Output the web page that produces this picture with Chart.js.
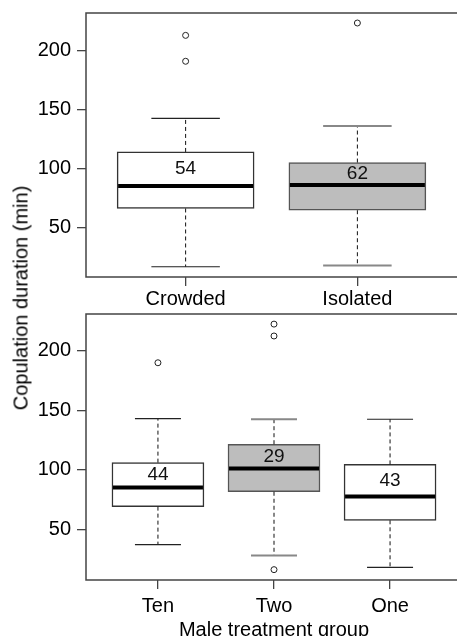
<!DOCTYPE html>
<html>
<head>
<meta charset="utf-8">
<script src="https://cdn.jsdelivr.net/npm/chart.js@4"></script>
<style>
  body { margin: 0; width: 457px; height: 636px; overflow: hidden; background: #fff; position: relative; }
  canvas { position: absolute; left: 0; }
  #topChart { top: 0; }
  #botChart { top: 305px; }
  #ytitle {
    position: absolute; left: 21px; top: 298px; z-index: 2;
    transform: translate(-50%, -50%) rotate(-90deg);
    white-space: nowrap; font: 20px "Liberation Sans", Arial, sans-serif; color: #000;
  }
</style>
</head>
<body>
<canvas id="topChart" width="457" height="315"></canvas>
<canvas id="botChart" width="462" height="337"></canvas>
<div id="ytitle">Copulation duration (min)</div>
<script>
// top panel: female rearing
const groupsTop = ['Crowded', 'Isolated'];
const q1Top = [66, 64.5];
const medTop = [85, 86];
const q3Top = [114, 105];
const loTop = [16.5, 17.5];
const hiTop = [142.5, 136];
const nTop = [54, 62];
const outTop = [[213, 191], [223.5]];

// bottom panel: male treatment
const groupsBot = ['Ten', 'Two', 'One'];
const q1Bot = [69, 81.5, 57.5];
const medBot = [85, 101, 77.5];
const q3Bot = [106, 121.5, 104.5];
const loBot = [37, 28, 18];
const hiBot = [143, 142.5, 142.5];
const nBot = [44, 29, 43];
const outBot = [[190], [222.5, 212.5, 16], []];

const yTicks = [50, 100, 150, 200];

Chart.defaults.font.family = '"Liberation Sans", Arial, sans-serif';
Chart.defaults.font.size = 20;
Chart.defaults.color = '#000';

const boxExtras = {
  id: 'boxExtras',
  afterDatasetsDraw(chart, args, opts) {
    const {ctx, chartArea: a, scales: {y}} = chart;
    const d = opts.d;
    const meta = chart.getDatasetMeta(0);
    ctx.save();
    meta.data.forEach((bar, i) => {
      const x = bar.x, w = bar.width;
      const grey = d.grey[i];
      // dashed whiskers
      ctx.strokeStyle = '#111';
      ctx.lineWidth = 1;
      ctx.setLineDash([4, 3]);
      ctx.beginPath();
      ctx.moveTo(x, y.getPixelForValue(d.q3[i]));
      ctx.lineTo(x, y.getPixelForValue(d.hi[i]));
      ctx.moveTo(x, y.getPixelForValue(d.q1[i]));
      ctx.lineTo(x, y.getPixelForValue(d.lo[i]));
      ctx.stroke();
      ctx.setLineDash([]);
      // caps
      ctx.strokeStyle = grey ? '#888' : '#222';
      ctx.lineWidth = grey ? 2 : 1.2;
      ctx.beginPath();
      [d.hi[i], d.lo[i]].forEach(v => {
        const py = y.getPixelForValue(v);
        ctx.moveTo(x - w / 4, py);
        ctx.lineTo(x + w / 4, py);
      });
      ctx.stroke();
      // median
      ctx.strokeStyle = '#000';
      ctx.lineWidth = 4;
      ctx.beginPath();
      const pm = y.getPixelForValue(d.med[i]);
      ctx.moveTo(x - w / 2 + 1, pm);
      ctx.lineTo(x + w / 2 - 1, pm);
      ctx.stroke();
      // n label
      ctx.fillStyle = '#111';
      ctx.font = '19px "Liberation Sans", Arial, sans-serif';
      ctx.textAlign = 'center';
      ctx.textBaseline = 'middle';
      ctx.fillText(String(d.n[i]), x, y.getPixelForValue((d.med[i] + d.q3[i]) / 2));
    });
    // frame (no right side, it falls off the page)
    ctx.strokeStyle = '#444';
    ctx.lineWidth = 1.5;
    ctx.beginPath();
    ctx.moveTo(a.right + 2, a.top);
    ctx.lineTo(a.left, a.top);
    ctx.lineTo(a.left, a.bottom);
    ctx.lineTo(a.right + 2, a.bottom);
    ctx.stroke();
    ctx.restore();
  }
};

function makePanel(id, p) {
  const fills = p.grey.map(g => g ? '#bdbdbd' : '#ffffff');
  const borders = p.grey.map(g => g ? '#555' : '#333');
  const outliers = [];
  p.out.forEach((vals, i) => vals.forEach(v => outliers.push({x: i + 1, y: v})));

  return new Chart(document.getElementById(id), {
    type: 'bar',
    data: {
      datasets: [{
        data: p.groups.map((g, i) => ({x: i + 1, y: [p.q1[i], p.q3[i]]})),
        backgroundColor: fills,
        borderColor: borders,
        borderWidth: 1.5,
        borderSkipped: false,
        barThickness: p.boxW
      }, {
        type: 'scatter',
        data: outliers,
        pointRadius: 3,
        pointBorderWidth: 1,
        pointBorderColor: '#222',
        pointBackgroundColor: 'rgba(0,0,0,0)'
      }]
    },
    options: {
      responsive: false,
      animation: false,
      layout: {autoPadding: false, padding: {top: p.padTop, left: 0, right: 0, bottom: 0}},
      plugins: {
        legend: {display: false},
        tooltip: {enabled: false},
        boxExtras: {d: p}
      },
      scales: {
        x: {
          type: 'linear',
          offset: false,
          min: p.xMin,
          max: p.xMax,
          afterFit: s => { s.height = p.xH; s.paddingLeft = 0; s.paddingRight = 0; },
          afterBuildTicks: s => { s.ticks = p.groups.map((g, i) => ({value: i + 1})); },
          ticks: {
            callback: (v, i) => p.groups[i],
            padding: p.xPad,
            maxRotation: 0,
            autoSkip: false,
            color: '#000'
          },
          grid: {offset: false, drawOnChartArea: false, tickLength: 9, color: '#444', lineWidth: 1.3},
          border: {display: false},
          title: {
            display: !!p.xTitle,
            text: p.xTitle || '',
            padding: 0,
            color: '#000',
            font: {size: 20}
          }
        },
        y: {
          min: p.yMin,
          max: p.yMax,
          afterFit: s => { s.width = 86; s.paddingTop = 0; s.paddingBottom = 0; },
          afterBuildTicks: s => { s.ticks = yTicks.map(v => ({value: v})); },
          ticks: {padding: 6, color: '#000'},
          grid: {drawOnChartArea: false, tickLength: 9, color: '#444', lineWidth: 1.3},
          border: {display: false}
        }
      }
    },
    plugins: [boxExtras]
  });
}

makePanel('topChart', {
  groups: groupsTop, q1: q1Top, med: medTop, q3: q3Top, lo: loTop, hi: hiTop, n: nTop, out: outTop,
  grey: [false, true], boxW: 137,
  xMin: 0.42, xMax: 2.58, yMin: 7.8, yMax: 232,
  padTop: 13, xH: 38, xPad: 1
});

makePanel('botChart', {
  groups: groupsBot, q1: q1Bot, med: medBot, q3: q3Bot, lo: loBot, hi: hiBot, n: nBot, out: outBot,
  grey: [false, true, false], boxW: 92,
  xMin: 0.38, xMax: 3.62, yMin: 7.3, yMax: 231,
  padTop: 9, xH: 62, xPad: 5, xTitle: 'Male treatment group'
});
</script>
</body>
</html>
